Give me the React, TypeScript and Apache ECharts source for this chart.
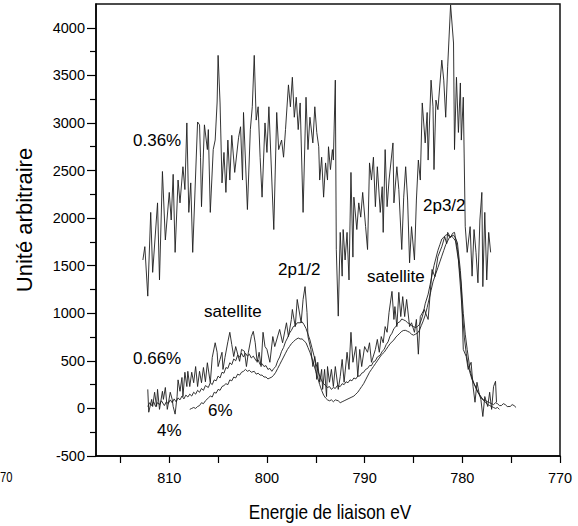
import React, { useEffect, useRef } from "react";
import * as echarts from "echarts";

// Axis ticks and labels (binding energy, eV; intensity, a.u.)
const xLabelValues = [770, 780, 790, 800, 810];
const xTickValues = [770, 775, 780, 785, 790, 795, 800, 805, 810, 815];
const yLabelValues = [-500, 0, 500, 1000, 1500, 2000, 2500, 3000, 3500, 4000];
const yMinorTickValues = [-250, 250, 750, 1250, 1750, 2250, 2750, 3250, 3750];

// 0.36 % spectrum
const ni036: [number, number][] = [
  [812.7,1560],[812.5,1700],[812.2,1180],[811.9,2060],[811.7,1430],[811.2,2160],[811.0,1350],[810.7,2490],[810.4,1770],[810.0,2270],
  [809.8,1980],[809.6,2460],[809.4,1640],[809.1,2400],[808.9,2160],[808.6,2540],[808.4,2300],[808.2,3000],[808.0,2060],[807.8,2370],
  [807.6,1640],[807.1,3010],[806.9,2980],[806.8,2640],[806.7,2120],[806.4,2980],[806.1,2720],[806.0,2930],[805.8,2060],[805.5,2720],
  [805.3,2820],[805.1,3220],[805.0,3710],[804.8,3210],[804.6,2370],[804.4,2690],[804.2,2270],[804.0,2820],[803.8,2400],[803.6,2870],
  [803.3,2480],[802.9,2850],[802.7,2960],[802.5,2400],[802.4,3110],[802.0,2090],[801.7,2930],[801.5,3170],[801.3,3710],[801.1,3030],
  [800.9,3170],[800.7,2640],[800.5,2220],[800.2,3000],[800.0,2690],[799.8,3170],[799.3,1880],[799.0,3110],[798.8,2720],[798.5,2820],
  [798.3,2640],[798.1,2930],[797.8,3400],[797.6,3170],[797.4,3480],[797.2,3060],[797.0,3270],[796.8,2930],[796.6,3210],[796.3,2060],
  [796.0,3270],[795.8,2720],[795.6,3060],[795.3,2790],[795.1,3170],[794.9,2900],[794.7,2750],[794.6,2400],[794.4,2640],[794.2,2220],
  [794.0,2580],[793.8,2400],[793.7,2750],[793.5,2510],[793.3,2720],[793.2,2610],[793.0,3450],[792.9,1670],[792.7,970],[792.5,1850],
  [792.3,1390],[792.2,1880],[792.0,1560],[791.8,1850],[791.6,1350],[791.4,2480],[791.2,1590],[791.1,2220],[790.8,1880],[790.6,2160],
  [790.4,2010],[790.2,2270],[789.9,1910],[789.7,1670],[789.5,2580],[789.3,2400],[789.1,2640],[788.9,2120],[788.7,2540],[788.4,2060],
  [788.2,2330],[788.1,1850],[787.9,2720],[787.7,2120],[787.5,2400],[787.1,2790],[787.0,2160],[786.7,2540],[786.5,2300],[786.2,1670],
  [786.0,2220],[785.8,2540],[785.6,2190],[785.4,1530],[785.2,1910],[784.9,1560],[784.7,2190],[784.5,2610],[784.3,2400],[784.1,3210],
  [783.8,2790],[783.6,3110],[783.5,2610],[783.2,3450],[783.0,3170],[782.9,2510],[782.7,3240],[782.5,3140],[782.1,3660],[781.9,3450],
  [781.7,3060],[781.5,3590],[781.2,4240],[780.9,3840],[780.8,2720],[780.6,3480],[780.4,2900],[780.2,3420],[780.1,2820],[779.9,3270],
  [779.7,1910],[779.5,1640],[779.2,1910],[779.0,1390],[778.8,1880],[778.6,1640],[778.4,1320],[778.2,1980],[778.0,2270],[777.9,1280],
  [777.7,2060],[777.5,1350],[777.3,1850],[777.1,1640],
];

// 0.66 % spectrum
const ni066: [number, number][] = [
  [812.2,200],[812.1,-40],[811.8,95],[811.7,20],[811.5,170],[811.3,20],[811.2,200],[811.0,-10],[810.7,180],[810.6,95],
  [810.4,220],[810.2,-10],[809.9,170],[809.7,95],[809.6,20],[809.4,-60],[809.2,125],[809.1,300],[808.9,180],[808.7,325],
  [808.6,125],[808.4,380],[808.2,230],[808.1,390],[807.9,230],[807.7,380],[807.5,270],[807.3,440],[807.1,230],[806.9,390],
  [806.7,270],[806.5,430],[806.3,280],[806.1,480],[805.8,270],[805.6,535],[805.3,690],[805.1,590],[805.0,440],[804.8,515],
  [804.6,590],[804.5,410],[804.3,535],[804.0,700],[803.8,800],[803.6,670],[803.4,545],[803.2,650],[802.8,495],[802.6,620],
  [802.3,600],[802.1,440],[801.9,590],[801.6,755],[801.4,810],[801.2,690],[801.0,485],[800.8,590],[800.6,440],[800.4,800],
  [800.2,650],[800.0,620],[799.7,485],[799.4,755],[799.2,650],[798.7,830],[798.4,690],[798.0,900],[797.8,755],[797.5,935],
  [797.4,1040],[797.1,860],[796.9,1145],[796.5,900],[796.3,1145],[796.1,1280],[795.9,1010],[795.8,755],[795.5,620],[795.3,440],
  [795.1,545],[794.9,305],[794.8,485],[794.6,275],[794.4,410],[794.3,200],[794.1,410],[793.9,125],[793.8,440],[793.6,275],
  [793.4,410],[793.2,230],[793.0,440],[792.7,200],[792.5,335],[792.3,515],[792.1,275],[791.8,590],[791.6,410],[791.4,800],
  [791.2,485],[790.9,650],[790.7,335],[790.5,620],[790.3,440],[790.0,650],[789.7,590],[789.5,690],[789.3,485],[788.9,620],
  [788.7,725],[788.5,590],[788.3,755],[788.1,690],[787.9,860],[787.7,800],[787.5,1010],[787.2,1230],[787.0,935],[786.9,1070],
  [786.7,860],[786.5,1220],[786.3,965],[786.1,1175],[785.9,965],[785.7,1145],[785.4,860],[785.2,900],[784.9,800],[784.7,935],
  [784.5,570],[784.3,965],[783.9,1040],[783.5,935],[783.1,1460],[782.8,1385],[782.5,1595],[782.1,1700],[781.8,1805],[781.6,1730],
  [781.5,1850],[781.2,1795],[781.0,1840],[780.8,1850],[780.5,1670],[780.1,1280],[779.9,620],[779.6,545],[779.4,410],[779.1,485],
  [778.9,230],[778.7,65],[778.5,275],[778.3,170],[778.1,95],[777.9,-85],[777.7,125],[777.4,20],[777.2,170],[777.0,-10],
  [776.8,230],[776.6,285],[776.5,65],
];

// 4 % spectrum
const ni4: [number, number][] = [
  [812.2,20],[812.0,60],[811.8,30],[811.6,70],[811.4,20],[811.2,60],[811.0,40],[810.8,80],[810.5,30],[810.3,70],
  [810.1,50],[809.9,90],[809.7,60],[809.5,100],[809.3,70],[809.1,110],[808.9,90],[808.7,130],[808.5,100],[808.3,140],
  [808.1,120],[807.9,150],[807.7,130],[807.5,170],[807.3,150],[807.1,190],[806.9,170],[806.7,210],[806.5,190],[806.3,240],
  [806.0,220],[805.8,270],[805.6,250],[805.4,300],[805.2,290],[805.0,340],[804.8,320],[804.6,380],[804.4,370],[804.2,430],
  [804.0,420],[803.8,480],[803.6,460],[803.4,520],[803.2,500],[803.0,560],[802.8,540],[802.6,580],[802.4,540],[802.2,580],
  [802.0,550],[801.8,570],[801.6,530],[801.4,550],[801.1,500],[800.9,510],[800.7,460],[800.5,470],[800.3,440],[800.1,450],
  [799.9,410],[799.7,420],[799.5,390],[799.3,420],[799.1,440],[798.9,500],[798.7,540],[798.5,600],[798.3,640],[798.1,700],
  [797.9,740],[797.7,790],[797.5,820],[797.3,860],[797.1,870],[796.9,900],[796.6,900],[796.4,910],[796.2,880],[796.0,840],
  [795.8,780],[795.6,720],[795.4,640],[795.2,560],[795.0,480],[794.8,400],[794.6,340],[794.4,290],[794.2,260],[794.0,240],
  [793.8,220],[793.6,230],[793.4,200],[793.2,220],[793.0,210],[792.8,240],[792.5,230],[792.3,260],[792.1,250],[791.9,280],
  [791.7,270],[791.5,300],[791.3,290],[791.1,320],[790.9,310],[790.7,340],[790.5,340],[790.3,370],[790.1,380],[789.9,410],
  [789.7,420],[789.5,450],[789.3,450],[789.1,490],[788.9,500],[788.7,540],[788.4,560],[788.2,600],[788.0,620],[787.8,670],
  [787.6,700],[787.4,760],[787.2,790],[787.0,840],[786.8,860],[786.6,900],[786.4,910],[786.2,940],[786.0,930],[785.8,920],
  [785.6,900],[785.4,890],[785.2,870],[785.0,860],[784.8,850],[784.6,860],[784.4,880],[784.2,930],[784.0,1000],[783.8,1100],
  [783.5,1200],[783.3,1300],[783.1,1400],[782.9,1500],[782.7,1580],[782.5,1660],[782.3,1720],[782.1,1780],[781.9,1800],[781.7,1820],
  [781.5,1830],[781.3,1800],[781.1,1810],[780.9,1790],[780.7,1760],[780.4,1560],[780.1,1150],[779.8,750],[779.6,580],[779.4,450],
  [779.2,370],[779.0,300],[778.8,260],[778.6,220],[778.4,170],[778.2,130],[778.0,100],[777.8,80],[777.6,60],[777.4,40],
  [777.2,30],[777.0,20],[776.8,10],[776.6,0],[776.4,10],[776.2,-10],
];

// 6 % spectrum
const ni6: [number, number][] = [
  [807.9,-10],[807.7,0],[807.5,10],[807.3,0],[807.1,20],[806.9,30],[806.7,60],[806.5,50],[806.3,80],[806.0,110],
  [805.8,130],[805.6,120],[805.4,170],[805.2,160],[805.0,200],[804.8,190],[804.6,230],[804.4,240],[804.2,260],[804.0,250],
  [803.8,300],[803.6,290],[803.4,330],[803.2,320],[803.0,360],[802.8,350],[802.6,380],[802.4,390],[802.2,410],[802.0,390],
  [801.8,400],[801.6,380],[801.3,390],[801.1,360],[800.9,370],[800.7,350],[800.5,350],[800.3,330],[800.1,330],[799.9,310],
  [799.7,320],[799.5,330],[799.3,350],[799.1,380],[798.9,420],[798.7,460],[798.5,500],[798.3,540],[798.1,580],[797.9,620],
  [797.7,650],[797.5,680],[797.3,700],[797.1,720],[796.8,740],[796.6,730],[796.4,730],[796.2,710],[796.0,690],[795.8,640],
  [795.6,590],[795.4,530],[795.2,460],[795.0,390],[794.8,320],[794.6,250],[794.4,190],[794.2,140],[794.0,110],[793.8,90],
  [793.6,80],[793.4,90],[793.2,70],[793.0,90],[792.7,80],[792.5,60],[792.3,70],[792.1,80],[791.9,90],[791.7,100],
  [791.5,110],[791.3,120],[791.1,130],[790.9,150],[790.7,170],[790.5,200],[790.3,230],[790.1,260],[789.9,300],[789.7,340],
  [789.5,380],[789.3,410],[789.1,440],[788.9,470],[788.7,500],[788.5,530],[788.3,560],[788.0,590],[787.8,620],[787.6,650],
  [787.4,680],[787.2,700],[787.0,720],[786.8,750],[786.6,770],[786.4,790],[786.2,810],[786.0,820],[785.8,820],[785.6,810],
  [785.4,800],[785.2,780],[785.0,770],[784.8,780],[784.6,790],[784.4,820],[784.2,870],[784.0,920],[783.8,980],[783.6,1060],
  [783.4,1150],[783.2,1240],[783.0,1330],[782.7,1420],[782.5,1480],[782.3,1540],[782.1,1600],[781.9,1660],[781.7,1720],[781.5,1760],
  [781.3,1800],[781.1,1810],[780.9,1820],[780.7,1790],[780.5,1740],[780.2,1450],[779.9,1000],[779.7,780],[779.5,620],[779.2,400],
  [779.0,320],[778.8,260],[778.6,210],[778.4,170],[778.2,140],[778.0,110],[777.8,90],[777.6,80],[777.4,70],[777.2,60],
  [777.0,50],[776.8,40],[776.6,60],[776.4,50],[776.2,30],[776.0,30],[775.8,50],[775.6,40],[775.4,20],[775.1,20],
  [774.9,40],[774.7,30],[774.5,10],
];

const FONT = "'Liberation Sans', Arial, Helvetica, sans-serif";

export default function App() {
  const ref = useRef<HTMLDivElement>(null);

  useEffect(() => {
    if (!ref.current) return;
    const chart = echarts.init(ref.current, undefined, { renderer: "svg" });
    const lineSeries = (name: string, data: [number, number][]) => ({
      name,
      type: "line",
      data,
      symbol: "none",
      showSymbol: false,
      xAxisIndex: 0,
      yAxisIndex: 0,
      lineStyle: { color: "#1e1e1e", width: 0.9 },
      z: 3,
    });
    const annot = (text: string, x: number, y: number) => ({
      type: "text",
      x,
      y,
      z: 10,
      style: { text, fontSize: 17, fontFamily: FONT, fill: "#000", align: "left", verticalAlign: "middle" },
    });
    const plain = (v: number) => String(v);

    chart.setOption({
      animation: false,
      backgroundColor: "#fff",
      grid: { left: 96, right: 18, top: 4, bottom: 70, show: true, borderColor: "#111", borderWidth: 1.5, containLabel: false },
      xAxis: {
        type: "value",
        inverse: true,
        min: 770,
        max: 817.5,
        axisLine: { show: true, onZero: false, lineStyle: { color: "#000", width: 1.5 } },
        axisTick: { show: true, length: 7, customValues: xTickValues, lineStyle: { color: "#000", width: 1.2 } },
        axisLabel: { customValues: xLabelValues, formatter: plain, margin: 14, fontSize: 14.5, fontFamily: FONT, color: "#000" },
        splitLine: { show: false },
      },
      yAxis: [
        {
          type: "value",
          position: "left",
          min: -500,
          max: 4250,
          axisLine: { show: true, onZero: false, lineStyle: { color: "#000", width: 1.5 } },
          axisTick: { show: true, length: 9, customValues: yLabelValues, lineStyle: { color: "#000", width: 1.2 } },
          axisLabel: { customValues: yLabelValues, formatter: plain, margin: 11, fontSize: 14.5, fontFamily: FONT, color: "#000" },
          splitLine: { show: false },
        },
        {
          type: "value",
          position: "left",
          min: -500,
          max: 4250,
          axisLine: { show: false },
          axisTick: { show: true, length: 6, customValues: yMinorTickValues, lineStyle: { color: "#000", width: 1.2 } },
          axisLabel: { show: false },
          splitLine: { show: false },
        },
      ],
      series: [
        lineSeries("0.36%", ni036),
        lineSeries("0.66%", ni066),
        lineSeries("4%", ni4),
        lineSeries("6%", ni6),
      ],
      graphic: [
        {
          type: "text",
          x: 24,
          y: 220,
          rotation: Math.PI / 2,
          style: { text: "Unité arbitraire", fontSize: 22, fontFamily: FONT, fill: "#000", align: "center", verticalAlign: "middle" },
        },
        {
          type: "text",
          x: 330,
          y: 512,
          scaleX: 0.86,
          style: { text: "Energie de liaison eV", fontSize: 20, fontFamily: FONT, fill: "#000", align: "center", verticalAlign: "middle" },
        },
        {
          type: "text",
          x: 0,
          y: 478,
          scaleX: 0.8,
          style: { text: "70", fontSize: 14, fontFamily: FONT, fill: "#000", align: "left", verticalAlign: "middle" },
        },
        annot("0.36%", 133, 140),
        annot("2p3/2", 423, 205),
        annot("2p1/2", 278, 269),
        annot("satellite", 367, 276),
        annot("satellite", 204, 311),
        annot("0.66%", 133, 358),
        annot("6%", 208, 410),
        annot("4%", 157, 430),
      ],
    });
    return () => chart.dispose();
  }, []);

  return <div ref={ref} style={{ position: "fixed", left: 0, top: 0, width: 578, height: 526 }} />;
}
